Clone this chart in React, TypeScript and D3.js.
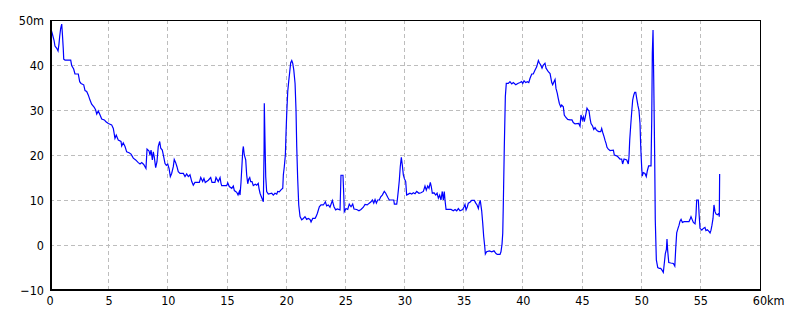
import React from "react";
import * as d3 from "d3";

const distanceKm: number[] = [
  0.0, 0.08, 0.19, 0.34, 0.42, 0.57, 0.68, 0.76, 0.82, 0.9, 0.99, 1.04, 1.12, 1.16, 1.27, 1.75, 1.83, 2.0, 2.11, 2.39,
  2.51, 2.62, 2.85, 2.96, 3.1, 3.24, 3.38, 3.52, 3.74, 3.86, 3.95, 4.08, 4.23, 4.37, 4.59, 4.73, 4.93, 5.21, 5.35, 5.49,
  5.6, 5.77, 6.0, 6.06, 6.19, 6.34, 6.48, 6.68, 6.85, 7.04, 7.24, 7.46, 7.61, 7.75, 7.92, 8.11, 8.2, 8.37, 8.45, 8.54,
  8.65, 8.73, 8.81, 8.93, 9.04, 9.15, 9.27, 9.36, 9.49, 9.61, 9.72, 9.83, 9.95, 10.06, 10.17, 10.28, 10.42, 10.5, 10.62, 10.73,
  10.84, 10.99, 11.27, 11.41, 11.55, 11.69, 11.83, 11.98, 12.11, 12.25, 12.62, 12.74, 12.9, 13.01, 13.12, 13.38, 13.58, 13.69, 13.94, 14.03,
  14.22, 14.37, 14.45, 14.51, 14.93, 15.02, 15.15, 15.36, 15.49, 15.58, 15.78, 15.89, 16.0, 16.06, 16.14, 16.23, 16.29, 16.34, 16.42, 16.54,
  16.62, 16.71, 16.79, 16.88, 16.96, 17.07, 17.18, 17.35, 17.47, 17.6, 17.66, 17.75, 17.86, 17.97, 18.03, 18.09, 18.11, 18.17, 18.23, 18.31,
  18.45, 18.74, 18.87, 19.01, 19.16, 19.24, 19.38, 19.5, 19.67, 19.72, 19.8, 19.89, 19.94, 20.0, 20.09, 20.17, 20.26, 20.34, 20.43, 20.51,
  20.6, 20.71, 20.79, 20.85, 20.93, 21.02, 21.13, 21.27, 21.41, 21.55, 21.69, 21.83, 21.97, 22.06, 22.2, 22.4, 22.48, 22.59, 22.76, 22.9,
  23.1, 23.27, 23.38, 23.52, 23.66, 23.86, 24.0, 24.14, 24.28, 24.51, 24.59, 24.76, 24.82, 24.87, 25.01, 25.16, 25.29, 25.44, 25.58, 25.69,
  25.92, 26.11, 26.28, 26.48, 26.62, 26.81, 26.98, 27.13, 27.24, 27.36, 27.47, 27.58, 27.69, 27.83, 27.95, 28.08, 28.25, 28.37, 28.54, 28.67,
  29.05, 29.1, 29.3, 29.35, 29.44, 29.52, 29.6, 29.69, 29.77, 29.86, 29.94, 30.06, 30.14, 30.28, 30.42, 30.57, 30.7, 30.85, 30.99, 31.18,
  31.35, 31.55, 31.69, 31.8, 31.92, 32.03, 32.14, 32.22, 32.31, 32.45, 32.6, 32.71, 32.82, 32.93, 33.04, 33.15, 33.24, 33.32, 33.38, 33.47,
  33.89, 34.08, 34.23, 34.37, 34.51, 34.65, 34.88, 34.99, 35.07, 35.16, 35.27, 35.35, 35.49, 35.64, 35.86, 35.98, 36.09, 36.2, 36.28, 36.36,
  36.48, 36.57, 36.65, 36.74, 36.79, 36.9, 37.13, 37.33, 37.52, 37.69, 37.8, 38.03, 38.11, 38.2, 38.26, 38.31, 38.39, 38.48, 38.56, 38.73,
  38.87, 39.02, 39.15, 39.36, 39.53, 39.72, 39.86, 39.95, 40.06, 40.2, 40.34, 40.46, 40.56, 40.71, 40.84, 40.99, 41.13, 41.27, 41.35, 41.47,
  41.58, 41.69, 41.83, 41.92, 42.11, 42.26, 42.4, 42.48, 42.59, 42.68, 42.76, 42.87, 42.95, 43.04, 43.16, 43.24, 43.38, 43.46, 43.58, 43.75,
  43.94, 44.11, 44.22, 44.37, 44.68, 44.79, 44.87, 44.98, 45.07, 45.15, 45.24, 45.3, 45.38, 45.47, 45.55, 45.64, 45.72, 45.86, 45.95, 46.06,
  46.14, 46.25, 46.37, 46.54, 46.62, 46.71, 46.82, 46.9, 46.99, 47.07, 47.18, 47.33, 47.61, 47.69, 47.89, 48.03, 48.17, 48.31, 48.39, 48.51,
  48.74, 48.87, 48.93, 48.99, 49.07, 49.16, 49.24, 49.33, 49.41, 49.5, 49.58, 49.69, 49.77, 49.86, 49.92, 50.0, 50.05, 50.14, 50.28, 50.39,
  50.48, 50.59, 50.79, 50.85, 50.9, 50.96, 51.02, 51.1, 51.15, 51.24, 51.36, 51.49, 51.61, 51.72, 51.83, 51.92, 52.0, 52.09, 52.14, 52.2,
  52.29, 52.46, 52.68, 52.8, 52.88, 52.96, 53.07, 53.16, 53.24, 53.33, 53.44, 53.58, 54.0, 54.09, 54.17, 54.26, 54.37, 54.51, 54.59, 54.65,
  54.79, 54.85, 54.93, 55.08, 55.21, 55.35, 55.43, 55.55, 55.67, 55.78, 55.86, 55.94, 56.03, 56.11, 56.2, 56.28, 56.39, 56.51, 56.56, 56.59,
];

const elevationM: number[] = [
  48.0, 48.0, 47.0, 45.5, 44.2, 43.7, 43.1, 44.7, 46.4, 48.1, 49.1, 47.2, 43.7, 41.3, 41.1, 41.1, 39.9, 39.1, 38.0, 38.0,
  36.3, 35.9, 35.6, 34.3, 34.1, 33.3, 32.2, 31.3, 30.6, 30.0, 29.1, 29.8, 28.9, 28.0, 27.8, 27.4, 27.0, 26.7, 25.9, 23.7,
  24.4, 23.3, 23.0, 22.0, 22.7, 21.9, 20.7, 20.5, 20.2, 19.3, 18.9, 18.3, 18.0, 18.3, 17.9, 17.0, 21.3, 20.9, 20.0, 21.1,
  18.9, 20.7, 19.6, 17.2, 18.5, 21.9, 23.0, 21.5, 21.1, 19.6, 18.1, 17.7, 18.0, 17.0, 15.2, 15.9, 17.4, 19.0, 18.3, 17.4,
  16.3, 15.9, 15.9, 15.2, 15.8, 15.2, 15.6, 14.1, 13.3, 13.9, 13.9, 15.0, 14.1, 14.8, 13.9, 14.4, 15.0, 13.9, 13.9, 15.0,
  14.1, 15.0, 13.7, 13.2, 13.2, 13.8, 13.0, 12.6, 13.1, 12.1, 11.7, 11.1, 11.9, 11.1, 13.9, 18.1, 21.0, 21.9, 20.0, 18.9,
  15.6, 13.6, 14.6, 15.0, 14.1, 14.1, 13.2, 13.5, 13.3, 13.7, 12.6, 11.5, 10.7, 10.0, 9.6, 21.1, 31.5, 23.0, 15.2, 11.9,
  11.3, 11.5, 11.1, 11.5, 11.3, 11.9, 11.8, 12.2, 12.6, 15.6, 17.4, 20.0, 24.4, 28.9, 34.1, 36.3, 38.5, 40.5, 41.0, 40.4,
  38.9, 35.9, 30.0, 21.9, 14.8, 8.9, 6.3, 5.6, 5.9, 6.3, 5.7, 5.9, 5.7, 5.1, 5.9, 5.9, 6.3, 7.0, 8.5, 8.9,
  8.9, 9.6, 8.7, 8.9, 8.4, 9.9, 8.5, 7.8, 8.0, 7.8, 15.5, 15.5, 11.5, 7.4, 8.1, 7.9, 9.1, 8.5, 9.1, 8.0,
  7.9, 7.6, 7.9, 8.4, 9.0, 8.9, 9.3, 9.6, 10.0, 9.3, 10.1, 9.3, 10.0, 10.0, 10.7, 11.1, 11.9, 11.5, 10.6, 10.0,
  10.0, 9.1, 9.1, 10.0, 12.2, 14.4, 17.4, 19.5, 17.8, 15.6, 14.8, 14.1, 11.1, 11.3, 11.5, 11.3, 11.6, 11.4, 11.9, 11.5,
  11.6, 11.9, 13.1, 12.2, 13.1, 12.6, 13.9, 13.0, 11.5, 11.6, 11.1, 11.5, 10.4, 11.1, 10.0, 11.9, 10.0, 11.9, 10.0, 7.9,
  7.9, 7.6, 7.9, 7.6, 8.1, 7.6, 7.9, 8.5, 9.0, 7.8, 8.5, 9.3, 9.5, 9.9, 9.9, 9.3, 8.9, 8.1, 9.3, 9.9,
  7.6, 4.8, 1.9, -0.4, -2.0, -1.5, -1.3, -1.5, -1.3, -1.9, -2.1, -2.1, -1.5, 0.2, 2.6, 9.3, 21.5, 33.0, 35.9, 35.9,
  36.3, 35.8, 36.1, 35.6, 35.9, 36.1, 36.3, 35.9, 36.5, 36.1, 36.3, 36.1, 37.0, 38.0, 38.0, 38.9, 39.6, 41.0, 40.5, 40.0,
  39.3, 40.0, 40.4, 39.3, 38.5, 38.1, 36.1, 35.6, 36.3, 36.8, 34.8, 33.7, 32.6, 31.5, 30.7, 31.1, 30.7, 28.9, 28.4, 27.9,
  27.8, 27.8, 27.2, 26.9, 27.0, 26.4, 28.9, 27.8, 28.5, 27.4, 28.5, 29.3, 30.4, 30.0, 29.8, 28.1, 27.0, 26.4, 25.7, 26.1,
  25.7, 25.4, 25.2, 25.2, 25.9, 25.0, 24.1, 23.3, 22.6, 21.7, 21.3, 21.0, 21.1, 20.0, 19.8, 19.5, 19.1, 19.1, 18.0, 19.1,
  18.9, 18.0, 19.6, 23.3, 26.4, 29.6, 32.2, 33.3, 33.9, 33.9, 32.6, 30.9, 30.0, 27.0, 21.9, 17.4, 15.3, 16.1, 15.9, 15.2,
  16.5, 17.6, 17.6, 27.8, 42.6, 47.8, 36.7, 19.6, 5.6, -3.3, -5.0, -5.2, -5.2, -5.6, -6.1, -3.9, -1.9, -1.0, 1.3, -1.3,
  -3.9, -4.0, -4.1, -4.7, -0.7, 2.7, 3.7, 4.4, 5.3, 5.7, 5.0, 5.2, 5.2, 5.7, 6.3, 5.7, 5.0, 4.7, 6.7, 10.0,
  10.0, 7.0, 3.7, 3.3, 3.7, 3.9, 3.2, 3.4, 3.1, 2.7, 3.3, 4.4, 5.9, 8.9, 7.4, 6.9, 6.7, 7.0, 6.3, 15.8,
];

const xTicks: number[] = [0, 5, 10, 15, 20, 25, 30, 35, 40, 45, 50, 55, 60];
const yTicks: number[] = [-10, 0, 10, 20, 30, 40, 50];
const xUnit = "km";
const yUnit = "m";

const W = 800;
const H = 320;
const FONT = "'Liberation Sans Narrow', 'DejaVu Sans Condensed', 'Liberation Sans', sans-serif";

export default function App() {
  const x = d3.scaleLinear().domain([0, 60]).range([50, 760]);
  const y = d3.scaleLinear().domain([-10, 50]).range([290, 20]);
  const points: [number, number][] = distanceKm.map((d, i) => [d, elevationM[i]]);
  const line = d3
    .line<[number, number]>()
    .x((d) => x(d[0]))
    .y((d) => y(d[1]));

  const [x0, x1] = x.range();
  const [yb, yt] = y.range();

  return (
    <svg
      width={W}
      height={H}
      style={{ position: "absolute", left: 0, top: 0, background: "#fff" }}
      fontFamily={FONT}
    >
      <rect x={0} y={0} width={W} height={H} fill="#fff" />
      {xTicks
        .filter((t) => t > 0 && t < 60)
        .map((t) => (
          <line
            key={"gx" + t}
            x1={Math.round(x(t)) - 0.5}
            x2={Math.round(x(t)) - 0.5}
            y1={yt}
            y2={yb}
            stroke="#bdbdbd"
            strokeDasharray="4,3"
            strokeWidth={1}
          />
        ))}
      {yTicks
        .filter((t) => t > -10 && t < 50)
        .map((t) => (
          <line
            key={"gy" + t}
            x1={x0}
            x2={x1}
            y1={Math.round(y(t)) + 0.5}
            y2={Math.round(y(t)) + 0.5}
            stroke="#bdbdbd"
            strokeDasharray="4,3"
            strokeWidth={1}
          />
        ))}
      <path d={line(points) || ""} fill="none" stroke="#0000ff" strokeWidth={1.2} strokeLinejoin="miter" />
      <line x1={x0} x2={x1 + 1} y1={yt + 0.5} y2={yt + 0.5} stroke="#000" strokeWidth={1} />
      <line x1={x1 + 0.5} x2={x1 + 0.5} y1={yt} y2={yb} stroke="#000" strokeWidth={1} />
      <line x1={x0 + 1} x2={x0 + 1} y1={yt} y2={yb + 1} stroke="#000" strokeWidth={2} />
      <line x1={x0} x2={x1 + 1} y1={yb} y2={yb} stroke="#000" strokeWidth={2} />
      {yTicks.map((t) => (
        <text
          key={"ly" + t}
          x={44}
          y={y(t)}
          dy="0.36em"
          textAnchor="end"
          fontSize={12.5}
          fill="#000"
        >
          {t === 50 ? `${t}${yUnit}` : t === -10 ? "\u221210" : String(t)}
        </text>
      ))}
      {xTicks.map((t) => (
        <text key={"lx" + t} x={x(t)} y={305} textAnchor="middle" fontSize={12.5} fill="#000">
          {String(t)}
        </text>
      ))}
      <text x={x(60) + 7} y={305} textAnchor="start" fontSize={12.5} fill="#000">
        {xUnit}
      </text>
    </svg>
  );
}
